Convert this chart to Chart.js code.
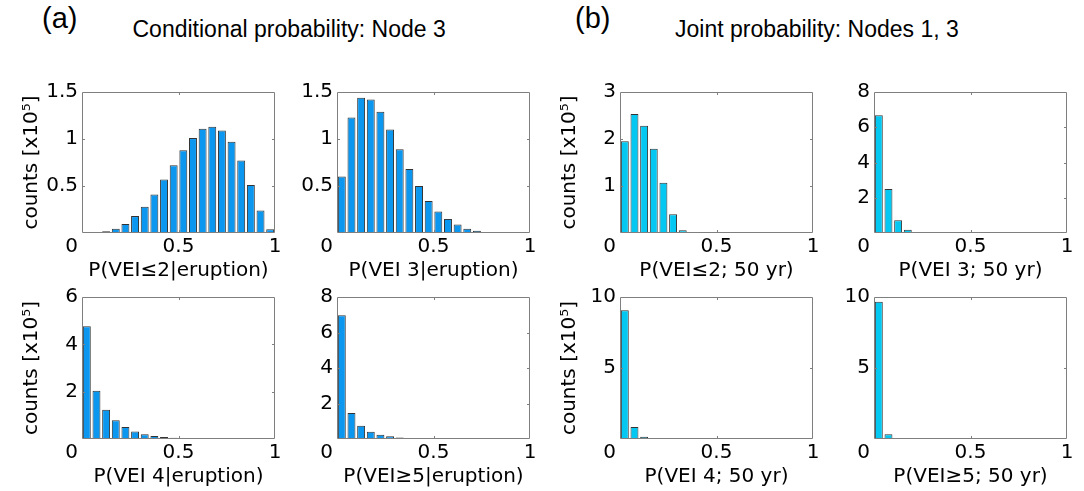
<!DOCTYPE html>
<html>
<head>
<meta charset="utf-8">
<script src="https://cdn.jsdelivr.net/npm/chart.js@4.4.1/dist/chart.umd.min.js"></script>
<style>
  html, body { margin: 0; padding: 0; background: #fff; }
  body { width: 1084px; height: 491px; position: relative; overflow: hidden; }
  .panel { position: absolute; }
  .lbl { position: absolute; font-family: "Liberation Sans", Arial, sans-serif; color: #000; line-height: 1; white-space: nowrap; }
</style>
</head>
<body>
<div class="lbl" style="left:42px; top:4px; font-size:29px;">(a)</div>
<div class="lbl" id="ta" style="top:18px; font-size:23px;">Conditional probability: Node 3</div>
<div class="lbl" style="left:575px; top:4px; font-size:29px;">(b)</div>
<div class="lbl" id="tb" style="top:18px; font-size:23px;">Joint probability: Nodes 1, 3</div>

<script>
// ---- data (counts in units of 10^5) ----
const binCenters = [0.025,0.075,0.125,0.175,0.225,0.275,0.325,0.375,0.425,0.475,
                    0.525,0.575,0.625,0.675,0.725,0.775,0.825,0.875,0.925,0.975];
const xTicks = [0, 0.5, 1];

const condVEI2 = [0.002,0.005,0.018,0.046,0.095,0.18,0.28,0.41,0.57,0.72,0.88,1.01,1.11,1.13,1.09,0.97,0.77,0.51,0.24,0.04];
const condVEI3 = [0.60,1.23,1.44,1.42,1.29,1.10,0.89,0.68,0.50,0.34,0.23,0.15,0.09,0.046,0.025,0.01,0.004,0.002,0.001,0];
const condVEI4 = [4.76,2.04,1.24,0.79,0.51,0.32,0.20,0.13,0.08,0.05,0.03,0.02,0.012,0.008,0.005,0.003,0,0,0,0];
const condVEI5 = [6.97,1.46,0.75,0.41,0.24,0.15,0.09,0.06,0.04,0.025,0.015,0.01,0.007,0.005,0.003,0.002,0,0,0,0];
const jointVEI2 = [1.95,2.53,2.28,1.79,1.07,0.40,0.06,0.003,0,0,0,0,0,0,0,0,0,0,0,0];
const jointVEI3 = [6.68,2.50,0.72,0.19,0.04,0.01,0,0,0,0,0,0,0,0,0,0,0,0,0,0];
const jointVEI4 = [9.06,0.85,0.16,0.03,0.01,0.005,0,0,0,0,0,0,0,0,0,0,0,0,0,0];
const jointVEI5 = [9.67,0.33,0.03,0.01,0.005,0,0,0,0,0,0,0,0,0,0,0,0,0,0,0];

const yTicksA1 = [0, 0.5, 1, 1.5];
const yTicksA2 = [0, 0.5, 1, 1.5];
const yTicksA3 = [0, 2, 4, 6];
const yTicksA4 = [0, 2, 4, 6, 8];
const yTicksB1 = [0, 1, 2, 3];
const yTicksB2 = [0, 2, 4, 6, 8];
const yTicksB3 = [0, 5, 10];
const yTicksB4 = [0, 5, 10];

const xLabels = ['P(VEI\u22642|eruption)', 'P(VEI 3|eruption)', 'P(VEI 4|eruption)', 'P(VEI\u22655|eruption)',
                 'P(VEI\u22642; 50 yr)', 'P(VEI 3; 50 yr)', 'P(VEI 4; 50 yr)', 'P(VEI\u22655; 50 yr)'];
const yTitle = 'counts [x10\u2075]';

const colorA = '#0b96ef';
const colorB = '#05c8f2';

// ---- layout ----
const plotW = 193;
const padL = 62, padT = 20, padR = 20, padB = 50;

const panels = [
  {vals: condVEI2,  yt: yTicksA1, xl: xLabels[0], col: colorA, left: 82,  top: 92,  h: 141, title: true},
  {vals: condVEI3,  yt: yTicksA2, xl: xLabels[1], col: colorA, left: 337, top: 92,  h: 141, title: false},
  {vals: condVEI4,  yt: yTicksA3, xl: xLabels[2], col: colorA, left: 82,  top: 297, h: 142, title: true},
  {vals: condVEI5,  yt: yTicksA4, xl: xLabels[3], col: colorA, left: 337, top: 297, h: 142, title: false},
  {vals: jointVEI2, yt: yTicksB1, xl: xLabels[4], col: colorB, left: 620, top: 92,  h: 141, title: true},
  {vals: jointVEI3, yt: yTicksB2, xl: xLabels[5], col: colorB, left: 874, top: 92,  h: 141, title: false},
  {vals: jointVEI4, yt: yTicksB3, xl: xLabels[6], col: colorB, left: 620, top: 297, h: 142, title: true},
  {vals: jointVEI5, yt: yTicksB4, xl: xLabels[7], col: colorB, left: 874, top: 297, h: 142, title: false}
];

// center titles over the groups
function centerTitle(id, cx) {
  const el = document.getElementById(id);
  el.style.left = (cx - el.offsetWidth / 2) + 'px';
}
centerTitle('ta', 289);
centerTitle('tb', 817);

Chart.defaults.font.family = '"DejaVu Sans", sans-serif';
Chart.defaults.font.size = 20;
Chart.defaults.color = '#000';

const boxPlugin = {
  id: 'boxPlugin',
  afterDatasetsDraw(chart) {
    const {ctx, chartArea: a, scales: {x, y}} = chart;
    ctx.save();
    ctx.strokeStyle = '#7f7f7f';
    ctx.lineWidth = 1;
    ctx.beginPath();
    ctx.rect(a.left + 0.5, a.top + 0.5, a.right - a.left - 1, a.bottom - a.top - 1);
    x.ticks.forEach(t => {
      if (t.value > x.min && t.value < x.max) {
        const px = Math.round(x.getPixelForValue(t.value)) + 0.5;
        ctx.moveTo(px, a.bottom); ctx.lineTo(px, a.bottom - 3);
        ctx.moveTo(px, a.top); ctx.lineTo(px, a.top + 3);
      }
    });
    y.ticks.forEach(t => {
      if (t.value > y.min && t.value < y.max) {
        const py = Math.round(y.getPixelForValue(t.value)) + 0.5;
        ctx.moveTo(a.left, py); ctx.lineTo(a.left + 3, py);
        ctx.moveTo(a.right, py); ctx.lineTo(a.right - 3, py);
      }
    });
    ctx.stroke();
    // the shared "0" at the lower-left corner
    ctx.fillStyle = '#000';
    ctx.font = '20px "DejaVu Sans", sans-serif';
    ctx.textAlign = 'right';
    ctx.textBaseline = 'middle';
    ctx.fillText('0', a.left - 4, a.bottom + 14);
    ctx.restore();
  }
};

panels.forEach((p, i) => {
  const div = document.createElement('div');
  div.className = 'panel';
  const W = padL + plotW + padR;
  const H = padT + p.h + padB;
  div.style.left = (p.left - padL) + 'px';
  div.style.top = (p.top - padT) + 'px';
  div.style.width = W + 'px';
  div.style.height = H + 'px';
  const cv = document.createElement('canvas');
  cv.width = W; cv.height = H;
  cv.style.width = W + 'px'; cv.style.height = H + 'px';
  div.appendChild(cv);
  document.body.appendChild(div);

  new Chart(cv, {
    type: 'bar',
    data: {
      datasets: [{
        data: binCenters.map((c, k) => ({x: c, y: p.vals[k]})),
        backgroundColor: p.col,
        borderColor: '#333333',
        borderWidth: 1,
        borderSkipped: false,
        barPercentage: 0.82,
        categoryPercentage: 1.0
      }]
    },
    options: {
      responsive: false,
      devicePixelRatio: 1,
      animation: false,
      layout: {padding: {top: padT, right: padR, left: 0, bottom: 0}},
      plugins: {legend: {display: false}, tooltip: {enabled: false}},
      scales: {
        x: {
          type: 'linear',
          min: 0, max: 1,
          offset: false,
          grid: {display: false, drawTicks: false},
          border: {display: false},
          afterBuildTicks: s => { s.ticks = xTicks.map(v => ({value: v})); },
          afterFit: s => { s.height = padB; },
          ticks: {padding: 2, maxRotation: 0, callback: v => v === 0 ? '' : String(v)},
          title: {display: true, text: p.xl, padding: 0, font: {size: 20}}
        },
        y: {
          min: 0, max: p.yt[p.yt.length - 1],
          grid: {display: false, drawTicks: false},
          border: {display: false},
          afterBuildTicks: s => { s.ticks = p.yt.map(v => ({value: v})); },
          afterFit: s => { s.width = padL; },
          ticks: {padding: 4, callback: v => v === 0 ? '' : String(v)},
          title: {display: p.title, text: yTitle, padding: 0, font: {size: 20}}
        }
      }
    },
    plugins: [boxPlugin]
  });
});
</script>
</body>
</html>
